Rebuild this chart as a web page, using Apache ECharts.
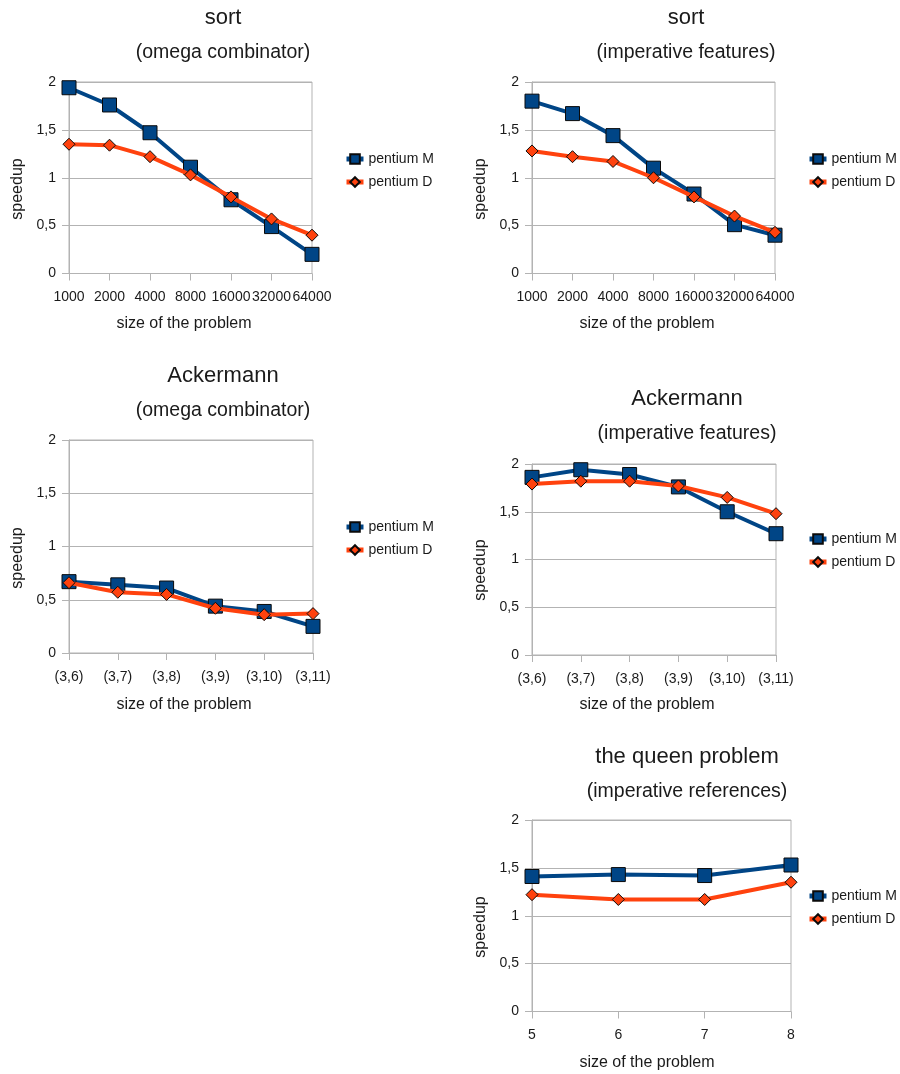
<!DOCTYPE html>
<html><head><meta charset="utf-8">
<script src="https://cdn.jsdelivr.net/npm/echarts@6/dist/echarts.min.js"></script>
<style>html,body{margin:0;padding:0;background:#fff}#c{width:900px;height:1074px}</style>
</head><body><div id="c"></div>
<script>
const seriesNames = ['pentium M', 'pentium D'];
const xSort = ['1000','2000','4000','8000','16000','32000','64000'];
const sortOmegaM = [1.94,1.76,1.47,1.11,0.77,0.49,0.20];
const sortOmegaD = [1.35,1.34,1.22,1.03,0.80,0.57,0.40];
const sortImpM = [1.80,1.67,1.44,1.10,0.83,0.51,0.40];
const sortImpD = [1.28,1.22,1.17,1.00,0.80,0.60,0.43];
const xAck = ['(3,6)','(3,7)','(3,8)','(3,9)','(3,10)','(3,11)'];
const ackOmegaM = [0.67,0.64,0.61,0.44,0.39,0.25];
const ackOmegaD = [0.66,0.57,0.55,0.42,0.36,0.37];
const ackImpM = [1.86,1.94,1.89,1.76,1.50,1.27];
const ackImpD = [1.79,1.82,1.82,1.77,1.65,1.48];
const xQueen = ['5','6','7','8'];
const queenM = [1.41,1.43,1.42,1.53];
const queenD = [1.22,1.17,1.17,1.35];
const yMin = 0, yMax = 2, yStep = 0.5;
const titles = ['sort','sort','Ackermann','Ackermann','the queen problem'];
const subtitles = ['(omega combinator)','(imperative features)','(omega combinator)','(imperative features)','(imperative references)'];
const xName = 'size of the problem';
const yName = 'speedup';

const FONT = 'Liberation Sans';
const BLUE = '#004586', ORANGE = '#ff420e', GRID = '#b3b3b3', TXT = '#1a1a1a';

const panels = [
  {cats: xSort, m: sortOmegaM, d: sortOmegaD, g:{left:69,top:82,width:243,height:191.5}, tx:223, ty:18, sy:53, xn:[184,324], yn:[18,189], lg:[344,152]},
  {cats: xSort, m: sortImpM, d: sortImpD, g:{left:532,top:82,width:243,height:191.5}, tx:686, ty:18, sy:53, xn:[647,324], yn:[481,189], lg:[807,152]},
  {cats: xAck, m: ackOmegaM, d: ackOmegaD, g:{left:69,top:440,width:244,height:213}, tx:223, ty:376, sy:411, xn:[184,705], yn:[18,558], lg:[344,520]},
  {cats: xAck, m: ackImpM, d: ackImpD, g:{left:532,top:464,width:244,height:191}, tx:687, ty:399, sy:434, xn:[647,705], yn:[481,570], lg:[807,532]},
  {cats: xQueen, m: queenM, d: queenD, g:{left:532,top:820,width:259,height:191.5}, tx:687, ty:757, sy:792, xn:[647,1063], yn:[481,927], lg:[807,889]}
];

const option = {
  animation: false,
  backgroundColor: '#fff',
  textStyle: {fontFamily: FONT},
  grid: [], xAxis: [], yAxis: [], series: [], legend: [], graphic: []
};

function txt(x, y, s, size, rot) {
  const o = {type:'text', x:x, y:y, style:{text:s, fontSize:size, fontFamily:FONT, fill:TXT, textAlign:'center', textVerticalAlign:'middle'}};
  if (rot) o.rotation = rot;
  return o;
}

panels.forEach((p, i) => {
  option.grid.push(Object.assign({show:true, borderColor:GRID, borderWidth:1, backgroundColor:'transparent'}, p.g));
  option.xAxis.push({
    type:'category', gridIndex:i, data:p.cats, boundaryGap:false,
    axisLine:{lineStyle:{color:GRID,width:1}},
    axisTick:{show:true, length:7, lineStyle:{color:GRID}},
    axisLabel:{interval:0, fontSize:14, color:TXT, margin:17, fontFamily:FONT},
    splitLine:{show:false}
  });
  option.yAxis.push({
    type:'value', gridIndex:i, min:yMin, max:yMax, interval:yStep,
    axisLine:{show:true, lineStyle:{color:GRID,width:1}},
    axisTick:{show:true, length:7, lineStyle:{color:GRID}},
    axisLabel:{fontSize:14, color:TXT, margin:13, fontFamily:FONT, formatter: v => String(v).replace('.', ',')},
    splitLine:{show:true, lineStyle:{color:GRID,width:1}}
  });
  option.series.push({
    name: seriesNames[0], type:'line', xAxisIndex:i, yAxisIndex:i, data:p.m,
    symbol:'rect', symbolSize:14, lineStyle:{color:BLUE,width:4},
    itemStyle:{color:BLUE, borderColor:'#0a0a0a', borderWidth:1}, z:2
  });
  option.series.push({
    name: seriesNames[1], type:'line', xAxisIndex:i, yAxisIndex:i, data:p.d,
    symbol:'diamond', symbolSize:12, lineStyle:{color:ORANGE,width:4},
    itemStyle:{color:ORANGE, borderColor:'#0a0a0a', borderWidth:1}, z:3
  });
  option.legend.push({
    data: seriesNames, orient:'vertical', left:p.lg[0], top:p.lg[1],
    padding:0, itemWidth:17, itemHeight:12, itemGap:9,
    lineStyle:{width:5},
    textStyle:{fontSize:14, color:TXT, fontFamily:FONT},
    selectedMode:false
  });
  option.graphic.push(
    txt(p.tx, p.ty, titles[i], 22),
    txt(p.tx, p.sy, subtitles[i], 19.5),
    txt(p.xn[0], p.xn[1], xName, 16),
    txt(p.yn[0], p.yn[1], yName, 16, Math.PI/2)
  );
});

const chart = echarts.init(document.getElementById('c'), null, {renderer:'canvas'});
chart.setOption(option);
</script>
</body></html>
